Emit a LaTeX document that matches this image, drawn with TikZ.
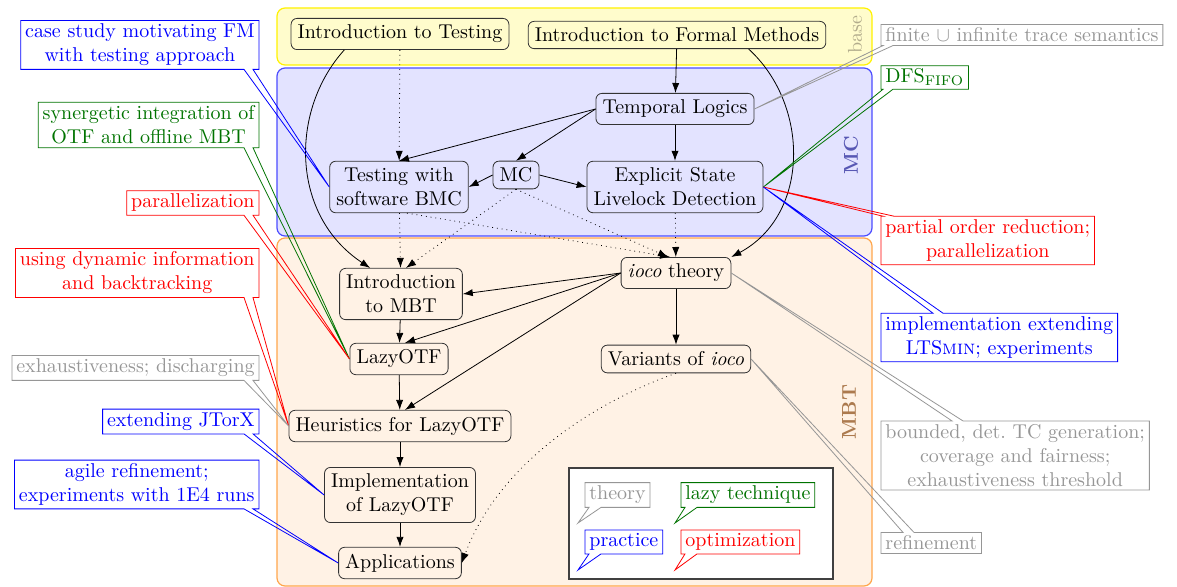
\documentclass[tikz,border=0pt]{standalone}
\usetikzlibrary{arrows.meta,calc}
\definecolor{baselbl}{RGB}{178,172,140}
\definecolor{mclbl}{RGB}{88,88,180}
\definecolor{mbtlbl}{RGB}{172,122,78}
\definecolor{notegray}{RGB}{150,150,150}
\definecolor{notegreen}{RGB}{0,115,0}
\newcommand{\lotf}{LazyOTF}
% callout outlines: box with a pointer wedge whose base sits on one edge
% base at the right end of the bottom edge
\newcommand{\ptrbr}[3]{\draw[#3, line join=miter]
  (#1.north west) -- (#1.north east) -- (#1.south east)
  -- ($(#1.south east)+(-6,0)$) -- (#2) -- ($(#1.south east)+(-15,0)$)
  -- (#1.south west) -- cycle;}
% base on the bottom edge, measured from the left corner
\newcommand{\ptrbl}[5]{\draw[#3, line join=miter]
  (#1.north west) -- (#1.north east) -- (#1.south east)
  -- ($(#1.south west)+(#5,0)$) -- (#2) -- ($(#1.south west)+(#4,0)$)
  -- (#1.south west) -- cycle;}
% base on the top edge, measured from the left corner
\newcommand{\ptrtl}[5]{\draw[#3, line join=miter]
  (#1.south west) -- (#1.north west)
  -- ($(#1.north west)+(#4,0)$) -- (#2) -- ($(#1.north west)+(#5,0)$)
  -- (#1.north east) -- (#1.south east) -- cycle;}
\begin{document}
\begin{tikzpicture}[x=0.5pt,y=-0.5pt,
  area/.style={rounded corners=4pt, line width=0.6pt},
  arealabel/.style={rotate=90, font=\bfseries},
  topic/.style={draw=black!80, rounded corners=3pt, align=center, inner sep=3.3pt},
  arr/.style={-{Latex[length=5pt,width=3.6pt]}},
  dep/.style={arr, dotted},
  note/.style={text=#1, align=center, inner xsep=2pt, inner ysep=1.5pt},
]
\useasboundingbox (0,0) rectangle (1177,587);

% course areas
\draw[area, draw=yellow, fill=yellow!20] (277,8) rectangle (872,65);
\draw[area, draw=blue!70, fill=blue!11] (277,68) rectangle (872,236);
\draw[area, draw=orange!70, fill=orange!10] (277,238) rectangle (872,586);
\node[rotate=90, text=baselbl] (lbase) at (855,35) {base};
\node[arealabel, text=mclbl] (lmc) at (851,155) {MC};
\node[arealabel, text=mbtlbl] (lmbt) at (849,412) {MBT};

% topics
\node[topic] (it) at (400,34) {Introduction to Testing};
\node[topic] (ifm) at (677,35) {Introduction to Formal Methods};
\node[topic] (tl) at (675,109) {Temporal Logics};
\node[topic] (bmc) at (399,187) {Testing with\\software BMC};
\node[topic] (mc) at (516,175) {MC};
\node[topic] (esl) at (675,187) {Explicit State\\Livelock Detection};
\node[topic] (imbt) at (401,294) {Introduction\\to MBT};
\node[topic] (ioco) at (676,273) {\emph{ioco} theory};
\node[topic] (lazy) at (399,359) {\lotf};
\node[topic] (var) at (676,359) {Variants of \emph{ioco}};
\node[topic] (heur) at (400,426) {Heuristics for \lotf};
\node[topic] (impl) at (400,495) {Implementation\\of \lotf};
\node[topic] (app) at (400,563) {Applications};

% prerequisites
\draw[arr] (ifm) -- (tl);
\draw[arr] (tl.west) -- (bmc.north);
\draw[arr] (tl.west) -- (mc.north);
\draw[arr] (tl) -- (esl);
\draw[arr] (mc.west) -- (bmc.east);
\draw[arr] (mc.east) -- (esl.west);
\draw[arr] ($(it.south west)!0.245!(it.south east)$) .. controls (290,110) and (290,215) .. ($(imbt.north west)!0.25!(imbt.north east)$);
\draw[arr] ($(ifm.south west)!0.74!(ifm.south east)$) .. controls (810,105) and (810,215) .. (ioco.north east);
\draw[arr] (ioco.west) -- (imbt.east);
\draw[arr] (ioco.west) -- ($(lazy.north)+(6,0)$);
\draw[arr] (ioco.west) -- ($(heur.north)+(5,0)$);
\draw[arr] (ioco) -- (var);
\draw[arr] (imbt) -- (lazy);
\draw[arr] (lazy) -- (heur);
\draw[arr] (heur) -- (impl);
\draw[arr] (impl) -- (app);

% helpful but optional
\draw[dep] (it) -- (bmc);
\draw[dep] (bmc) -- (imbt);
\draw[dep] (mc.south) -- ($(imbt.north)+(5,0)$);
\draw[dep] (mc.south) -- ($(ioco.north)+(-8,0)$);
\draw[dep] ($(bmc.south)+(8,0)$) -- ($(ioco.north)+(-6,0)$);
\draw[dep] (esl) -- (ioco);
\draw[dep] (var.south) .. controls (600,400) and (500,460) .. (app.east);

% contributions
\node[note=blue, anchor=east] (n1) at (259,45) {case study motivating FM\\with testing approach};
\node[note=notegreen, anchor=east] (n2) at (259,125) {synergetic integration of\\OTF and offline MBT};
\node[note=red, anchor=east] (n3) at (259,203) {parallelization};
\node[note=red, anchor=east] (n4) at (259,273) {using dynamic information\\and backtracking};
\node[note=notegray, anchor=east] (n5) at (259,368) {exhaustiveness; discharging};
\node[note=blue, anchor=east] (n6) at (259,421.5) {extending JTorX};
\node[note=blue, anchor=east] (n7) at (259,484.5) {agile refinement;\\experiments with 1E4 runs};
\node[note=notegray, anchor=west] (n8) at (881,35) {finite $\cup$ infinite trace semantics};
\node[note=notegreen, anchor=west] (n9) at (881,77.5) {$\mathrm{DFS}_{\mathrm{FIFO}}$};
\node[note=red, anchor=west] (n10) at (881,240.5) {partial order reduction;\\parallelization};
\node[note=blue, anchor=west] (n11) at (881,337.5) {implementation extending\\LTS\textsc{min}; experiments};
\node[note=notegray, anchor=west] (n12) at (881,455.5) {bounded, det.\ TC generation;\\coverage and fairness;\\exhaustiveness threshold};
\node[note=notegray, anchor=west] (n13) at (881,543) {refinement};

\ptrbr{n1}{bmc.west}{blue}
\ptrbr{n2}{lazy.west}{notegreen}
\ptrbr{n3}{lazy.west}{red}
\ptrbr{n4}{heur.west}{red}
\ptrbr{n5}{heur.west}{notegray}
\ptrbr{n6}{impl.west}{blue}
\ptrbr{n7}{app.west}{blue}
\ptrbl{n8}{tl.east}{notegray}{2}{12}
\ptrbl{n9}{esl.east}{notegreen}{2}{12}
\ptrtl{n10}{esl.east}{red}{2}{13}
\ptrtl{n11}{esl.east}{blue}{52}{62}
\ptrtl{n12}{ioco.east}{notegray}{71}{82}
\ptrtl{n13}{var.east}{notegray}{22}{33}

% legend
\node[draw=black!75, fill=white, line width=0.6pt, minimum width=132pt, minimum height=55.5pt] (legend) at (701,523.5) {};
\coordinate (p1) at (578,523);
\coordinate (p2) at (675,523);
\coordinate (p3) at (578,570);
\coordinate (p4) at (675,570);
\node[note=notegray, anchor=west] (k1) at (585,495) {theory};
\node[note=notegreen, anchor=west] (k2) at (681,495) {lazy technique};
\node[note=blue, anchor=west] (k3) at (585,542) {practice};
\node[note=red, anchor=west] (k4) at (681,542) {optimization};
\ptrbl{k1}{p1}{notegray}{4}{16}
\ptrbl{k2}{p2}{notegreen}{4}{16}
\ptrbl{k3}{p3}{blue}{4}{16}
\ptrbl{k4}{p4}{red}{4}{16}
\end{tikzpicture}
\end{document}
